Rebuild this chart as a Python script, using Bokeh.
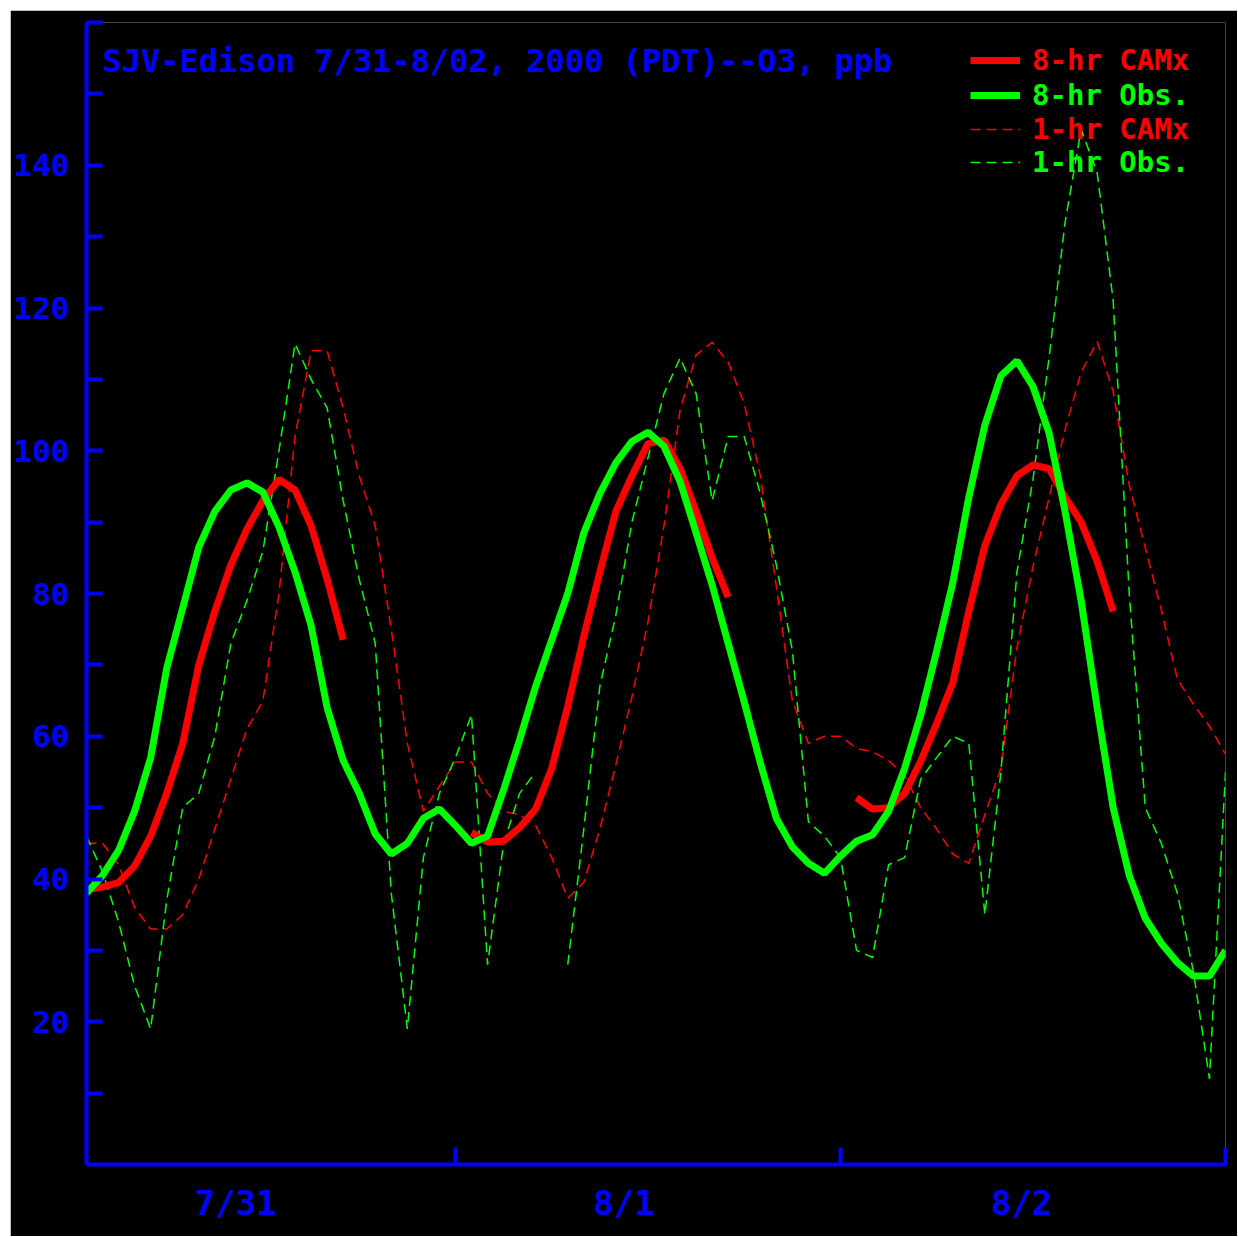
from bokeh.plotting import figure
from bokeh.models import (Range1d, FixedTicker, LinearAxis, Label, Legend,
                          LegendItem, ColumnDataSource)
from bokeh.embed import file_html
from bokeh.resources import INLINE

nan = float("nan")

# ---------------- data (hour 1..72, 7/31 01:00 -> 8/02 24:00 PDT) -------------
hours = list(range(1, 73))

obs_1hr = [46, 41, 34, 25, 19, 37, 50, 52, 60, 73,
           79, 86, 100, 115, 110, 106, 93, 82, 73, 38,
           19, 43, 52, 57, 63, 28, 45, 52, 55, nan,
           28, 47, 67, 77, 90, 99, 108, 113, 108, 93,
           102, 102, 94, 84, 72, 48, 46, 43, 30, 29,
           42, 43, 54, 57, 60, 59, 35, 55, 83, 96,
           113, 132, 145, 139, 121, 80, 50, 45, 38, 27,
           12, 55]

camx_1hr = [45, 45, 42, 36, 33, 33, 35, 40, 47, 54,
            61, 65, 80, 102, 114, 114, 106, 96.5, 89.5, 75,
            59, 49.5, 53, 56.4, 56.4, 52, 49.5, 49, 47.5, 43,
            37.3, 39.5, 47, 56, 65.5, 76, 89.5, 105.7, 113.4, 115.2,
            112.4, 106.6, 96.5, 81, 65, 59, 60, 60, 58.3, 57.8,
            56.6, 54.5, 50, 47, 43.5, 42.2, 49, 55.5, 72.4, 83.8,
            93.4, 103, 111, 115.3, 108.3, 95.2, 86.4, 77.7, 68, 64.5,
            61.4, 57.5]

obs_8hr = [38, 40.5, 44, 49.5, 57, 69.5, 78, 86.5, 91.5, 94.5,
           95.5, 94.2, 89.3, 83, 75.5, 64, 56.6, 52, 46.3, 43.5,
           45, 48.5, 49.8, 47.5, 45, 46, 52.5, 59.5, 67, 73.5,
           80, 88.5, 94, 98.3, 101.3, 102.6, 100.6, 95.7, 88.5, 81.2,
           73, 64.8, 56.3, 48.5, 44.5, 42.2, 40.8, 43.2, 45.3, 46.2,
           49.5, 55.5, 63, 72, 81.5, 93.5, 103.6, 110.5, 112.6, 109,
           102.5, 91.5, 79, 64, 50, 40.5, 34.5, 31, 28.3, 26.4,
           26.4, 30]

camx_8hr = [38.5, 38.9, 39.5, 41.8, 46, 52, 59, 70, 77.5, 84,
            89, 93, 96, 94.5, 89.5, 82, 73.5, nan, nan, nan,
            nan, nan, nan, nan, 46.5, 45.2, 45.3, 47.2, 49.8, 55.5,
            64.2, 74, 83, 91.5, 96.5, 101, 101.5, 97.5, 91.5, 85,
            79.5, nan, nan, nan, nan, nan, nan, nan, 51.4, 49.8,
            50, 52, 56.5, 61.8, 67.5, 77.5, 86.7, 92.5, 96.5, 98,
            97.5, 93.5, 90, 84.5, 77.5, nan, nan, nan, nan, nan,
            nan, nan]

day_labels = ["7/31", "8/1", "8/2"]
day_label_pos = [10.3, 34.5, 59.3]
day_bounds = [24, 48, 72]
y_major = [20, 40, 60, 80, 100, 120, 140]
y_minor = [10, 30, 50, 70, 90, 110, 130, 150, 160]
title_text = "SJV-Edison 7/31-8/02, 2000 (PDT)--O3, ppb"
series_names = ["8-hr CAMx", "8-hr Obs.", "1-hr CAMx", "1-hr Obs."]

BLUE = "#0000ff"
RED = "#ff0000"
GREEN = "#00ff00"
FONT = "DejaVu Sans Mono"

src = ColumnDataSource(dict(h=hours, o1=obs_1hr, c1=camx_1hr, o8=obs_8hr, c8=camx_8hr))

p = figure(width=1227, height=1226, output_backend="svg", toolbar_location=None,
           x_range=Range1d(1, 72), y_range=Range1d(0, 160),
           x_axis_type=None, y_axis_type=None,
           background_fill_color="black", border_fill_color="black",
           min_border_left=74, min_border_right=12, min_border_top=12,
           min_border_bottom=72)
p.outline_line_color = None
p.margin = (10, 0, 0, 10)

# ---------------- axes ----------------
xaxis = LinearAxis(ticker=FixedTicker(ticks=day_label_pos, minor_ticks=day_bounds),
                   major_label_overrides=dict(zip(day_label_pos, day_labels)))
yaxis = LinearAxis(ticker=FixedTicker(ticks=y_major, minor_ticks=y_minor))
for ax in (xaxis, yaxis):
    ax.axis_line_color = BLUE
    ax.axis_line_width = 4
    ax.major_tick_line_color = BLUE
    ax.major_tick_line_width = 4
    ax.minor_tick_line_color = BLUE
    ax.minor_tick_line_width = 4
    ax.major_tick_out = 0
    ax.minor_tick_out = 0
    ax.major_label_text_color = BLUE
    ax.major_label_text_font = FONT
    ax.major_label_text_font_style = "bold"
xaxis.major_tick_in = 0
xaxis.major_tick_line_color = None
xaxis.minor_tick_in = 17
xaxis.major_label_text_font_size = "34px"
xaxis.major_label_standoff = 18
yaxis.major_tick_in = 16
yaxis.minor_tick_in = 16
yaxis.major_label_text_font_size = "31px"
yaxis.major_label_standoff = 17
p.add_layout(xaxis, "below")
p.add_layout(yaxis, "left")

# ---------------- lines ----------------
r_c1 = p.line("h", "c1", source=src, line_color=RED, line_width=1.5, line_dash="10 6")
r_o1 = p.line("h", "o1", source=src, line_color=GREEN, line_width=1.5, line_dash="10 6")
r_c8 = p.line("h", "c8", source=src, line_color=RED, line_width=7)
r_o8 = p.line("h", "o8", source=src, line_color=GREEN, line_width=7)

# ---------------- title ----------------
p.add_layout(Label(x=16, y=1104, x_units="screen", y_units="screen", text=title_text,
                   text_font=FONT, text_font_style="bold", text_font_size="32px",
                   text_color=BLUE, text_baseline="middle", text_align="left"))

# ---------------- legend (one per row so each label has its own colour) -------
rows = [(r_c8, series_names[0], RED, 1087),
        (r_o8, series_names[1], GREEN, 1052),
        (r_c1, series_names[2], RED, 1018),
        (r_o1, series_names[3], GREEN, 985)]
for rend, name, col, yb in rows:
    leg = Legend(items=[LegendItem(label=name, renderers=[rend])], location=(884, yb),
                 padding=0, margin=0, spacing=0, glyph_width=50, glyph_height=28,
                 label_standoff=12, label_height=28, label_text_font=FONT,
                 label_text_font_style="bold", label_text_font_size="29px",
                 label_text_color=col, border_line_color=None,
                 background_fill_alpha=0)
    p.add_layout(leg)

open("out.html", "w").write(file_html(p, INLINE))
